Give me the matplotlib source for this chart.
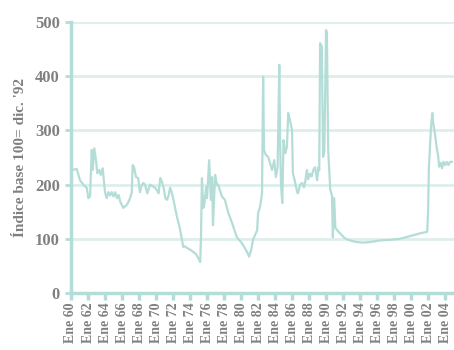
import matplotlib.pyplot as plt

# decimal year and index value
years = [1960.2, 1960.67, 1961.06, 1961.45, 1961.85, 1962.04, 1962.24, 1962.44, 1962.55, 1962.74,
         1962.94, 1963.09, 1963.33, 1963.49, 1963.73, 1963.88, 1964.0, 1964.2, 1964.4, 1964.6,
         1964.8, 1965.0, 1965.2, 1965.4, 1965.6, 1965.8, 1966.0, 1966.15, 1966.35, 1966.55,
         1966.75, 1966.95, 1967.15, 1967.25, 1967.4, 1967.65, 1967.9, 1968.1, 1968.3, 1968.5,
         1968.7, 1968.98, 1969.3, 1969.7, 1969.9, 1970.1, 1970.3, 1970.5, 1970.7, 1970.9,
         1971.1, 1971.3, 1971.5, 1971.65, 1971.85, 1972.05, 1972.25, 1972.5, 1972.8, 1973.2,
         1973.4, 1973.65, 1974.0, 1974.35, 1974.7, 1974.95, 1975.2, 1975.3, 1975.4, 1975.55,
         1975.65, 1975.9, 1976.0, 1976.25, 1976.45, 1976.6, 1976.7, 1976.95, 1977.15, 1977.3,
         1977.75, 1978.1, 1978.5, 1978.95, 1979.5, 1980.1, 1980.7, 1980.95, 1981.2, 1981.4,
         1981.9, 1982.0, 1982.24, 1982.47, 1982.6, 1982.7, 1982.9, 1983.2, 1983.4, 1983.65,
         1983.9, 1984.1, 1984.3, 1984.5, 1984.6, 1984.7, 1984.85, 1985.0, 1985.2, 1985.4,
         1985.55, 1985.75, 1986.0, 1986.1, 1986.35, 1986.6, 1986.7, 1986.95, 1987.2, 1987.4,
         1987.5, 1987.75, 1987.9, 1988.1, 1988.3, 1988.5, 1988.7, 1988.95, 1989.1, 1989.2,
         1989.3, 1989.5, 1989.65, 1989.8, 1990.0, 1990.1, 1990.25, 1990.5, 1990.7, 1990.8,
         1990.95, 1991.1, 1991.3, 1991.65, 1992.2, 1992.8, 1993.6, 1994.35, 1995.2, 1996.35,
         1997.5, 1998.7, 1999.9, 2001.06, 2001.9, 2002.0, 2002.1, 2002.35, 2002.5, 2002.6,
         2002.8, 2003.0, 2003.2, 2003.3, 2003.5, 2003.65, 2003.8, 2004.0, 2004.2, 2004.4,
         2004.6, 2004.8]
index = [227, 229, 208, 200, 194, 175, 178, 264, 227, 267,
         245, 221, 227, 218, 230, 205, 186, 175, 186, 180,
         186, 178, 186, 175, 181, 168, 162, 157, 160, 162,
         168, 175, 186, 236, 233, 214, 212, 186, 198, 203,
         200, 184, 200, 196, 194, 190, 184, 212, 205, 194,
         175, 172, 181, 194, 186, 172, 157, 138, 120, 85,
         86, 83, 80, 76, 72, 65, 57, 110, 212, 157,
         160, 196, 175, 245, 172, 214, 125, 218, 200, 200,
         178, 172, 148, 129, 103, 92, 76, 67, 80, 98,
         116, 147, 159, 184, 399, 264, 255, 251, 240, 227,
         245, 214, 232, 421, 277, 200, 166, 282, 258, 270,
         332, 319, 300, 221, 205, 186, 184, 200, 203, 195,
         200, 227, 210, 220, 215, 227, 232, 208, 232, 226,
         461, 455, 251, 262, 485, 480, 264, 190, 180, 103,
         175, 120, 116, 110, 101, 97, 94, 93, 94, 97,
         98, 100, 105, 110, 113, 150, 233, 307, 332, 313,
         295, 270, 251, 233, 240, 230, 242, 236, 242, 236,
         242, 242]

tick_years = list(range(1960, 2005, 2))
tick_labels = ['Ene %02d' % (y % 100) for y in tick_years]
y_ticks = [0, 100, 200, 300, 400, 500]

line_col = '#b4ddd7'
axis_col = '#b4ddd7'
grid_col = '#dcefed'
text_col = '#808080'

plt.rcParams['font.family'] = ['Liberation Serif', 'DejaVu Serif']
plt.rcParams['font.weight'] = 'bold'

fig = plt.figure(figsize=(4.54, 3.5), dpi=100)
ax = fig.add_axes([71 / 454, 57 / 350, 383 / 454, 271 / 350])

# light horizontal guide lines
for v in y_ticks[1:]:
    ax.axhline(v, color=grid_col, linewidth=2, zorder=1)

ax.plot(years, index, color=line_col, linewidth=1.6, zorder=2)

ax.set_xlim(1960, 2005.05)
ax.set_ylim(0, 500)
ax.set_xticks(tick_years)
ax.set_xticklabels(tick_labels, rotation=90, fontsize=10, color=text_col, fontweight='bold')
ax.set_yticks(y_ticks)
ax.set_yticklabels([str(v) for v in y_ticks], fontsize=12, color=text_col, fontweight='bold')
ax.tick_params(axis='x', length=5, width=2.5, color=axis_col, pad=2)
ax.tick_params(axis='y', length=4, width=2, color=axis_col, pad=4)

for s in ['top', 'right']:
    ax.spines[s].set_visible(False)
for s in ['left', 'bottom']:
    ax.spines[s].set_color(axis_col)
    ax.spines[s].set_linewidth(2.5)

ax.set_ylabel("Índice base 100= dic. '92", fontsize=11, color=text_col,
              fontweight='bold', labelpad=6)

fig.savefig('out.png', dpi=100)
